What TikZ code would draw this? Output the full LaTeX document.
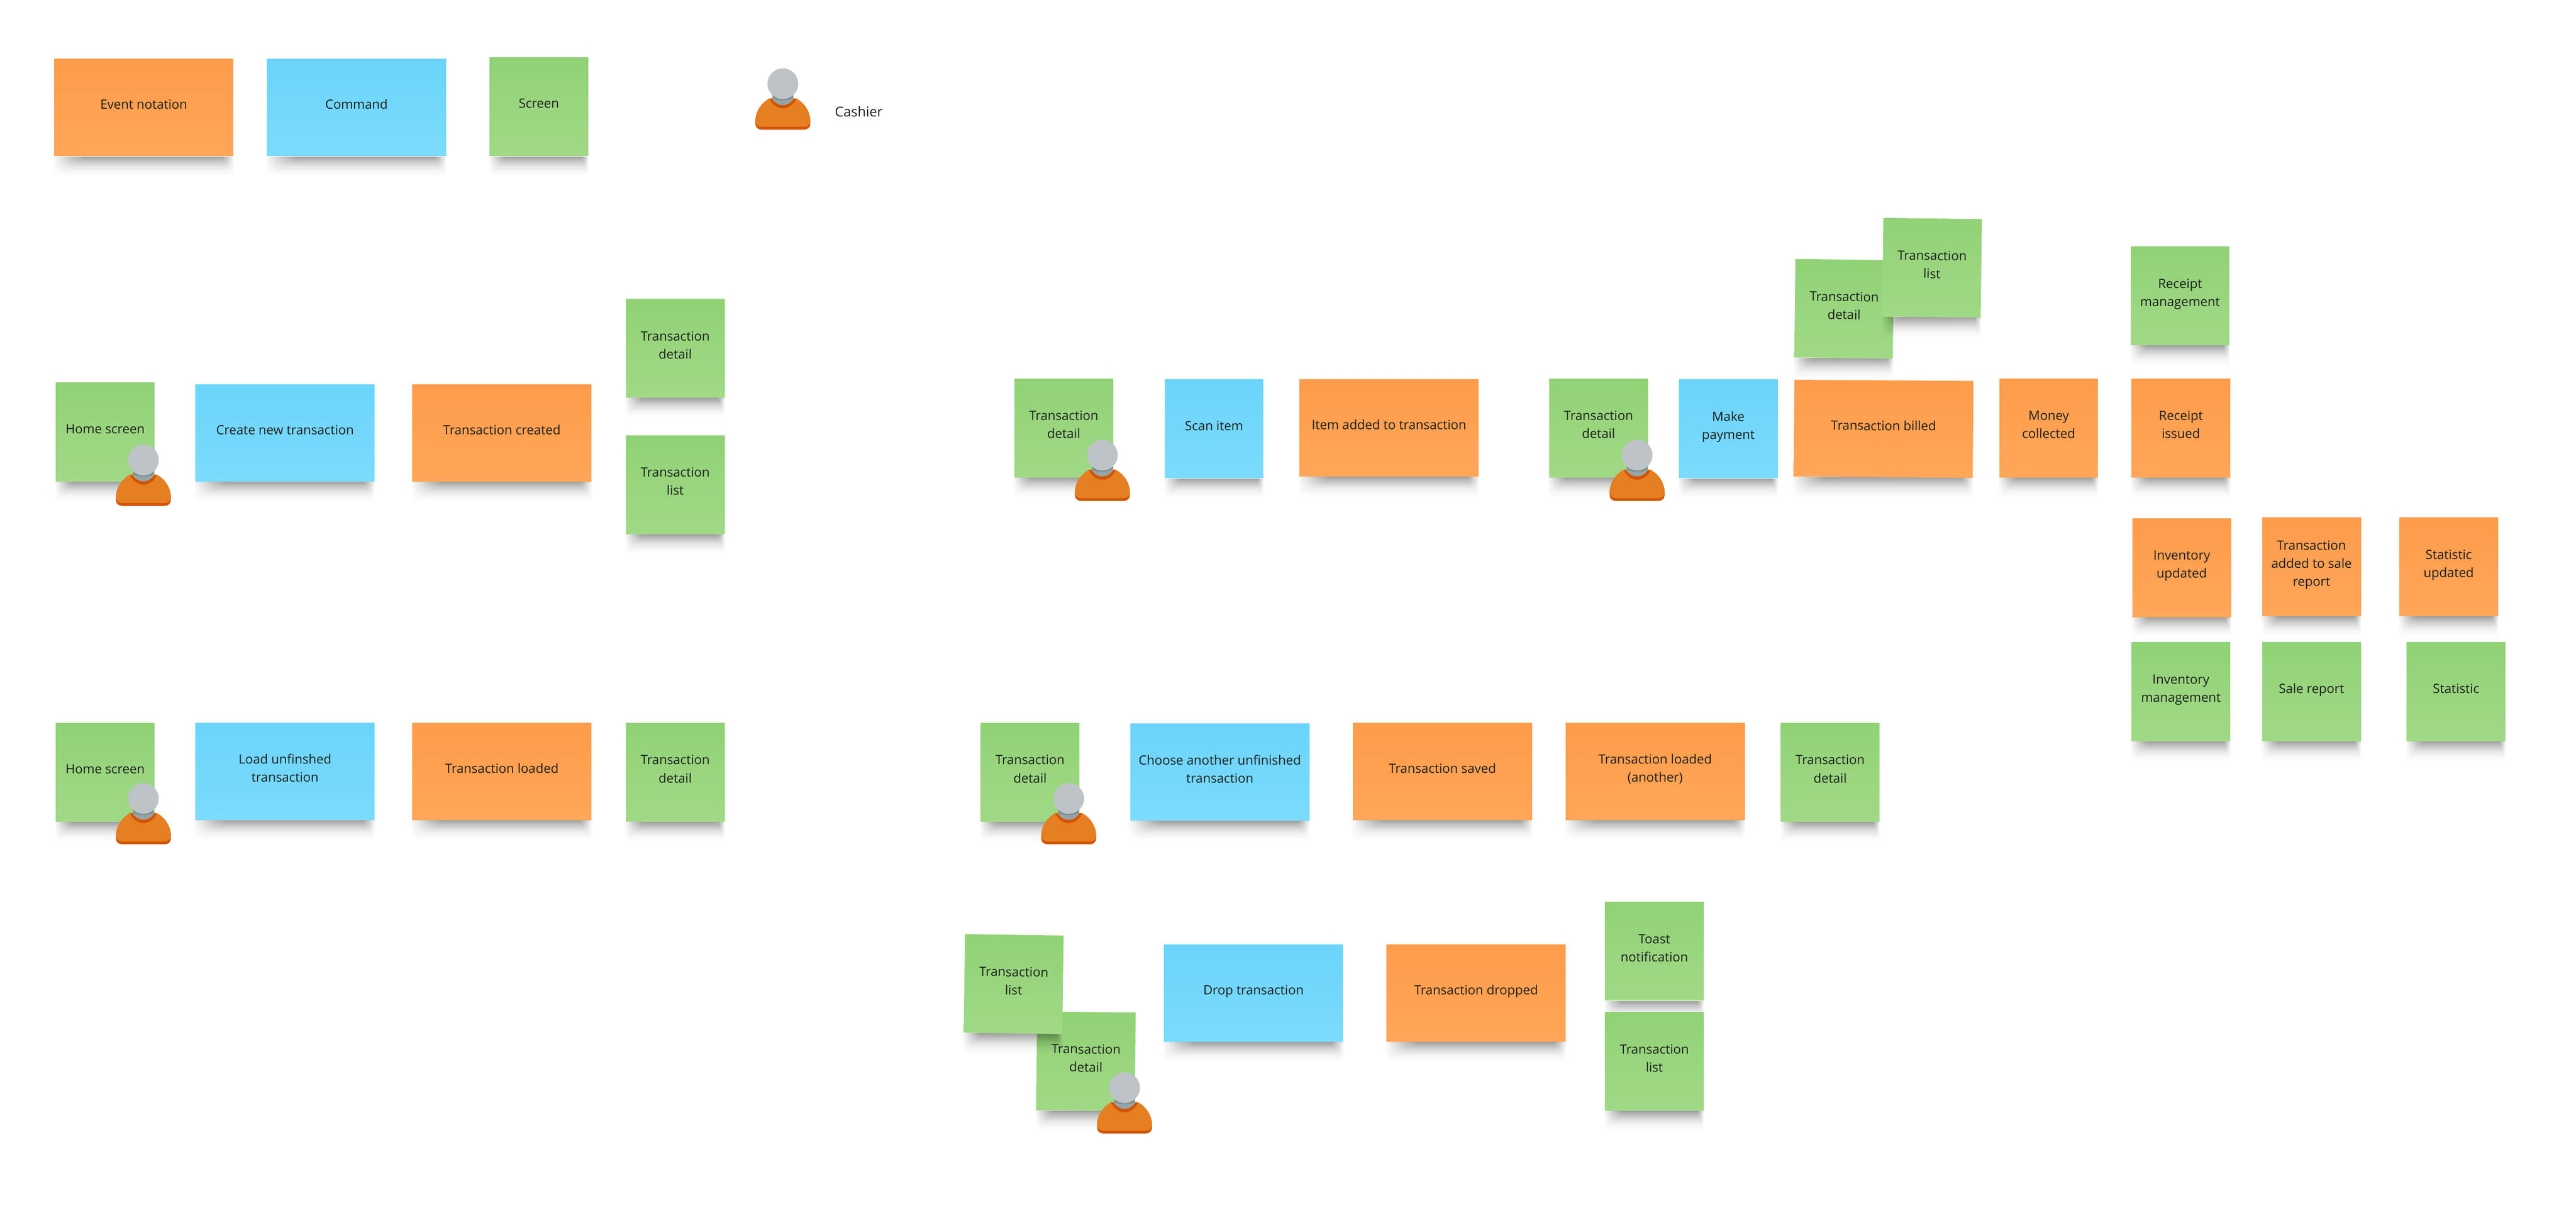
\documentclass[tikz,border=0pt]{standalone}
\usepackage{fontspec}
\setmainfont{Open Sans}
\usetikzlibrary{calc,fadings}
\definecolor{evtTop}{HTML}{FE9C4B}
\definecolor{evtBot}{HTML}{FFA658}
\definecolor{cmdTop}{HTML}{6BD4FB}
\definecolor{cmdBot}{HTML}{7BDBFC}
\definecolor{scrTop}{HTML}{91D276}
\definecolor{scrBot}{HTML}{A1D986}
\definecolor{bodyOrange}{HTML}{E67E22}
\definecolor{darkOrange}{HTML}{D35400}
\definecolor{headGray}{HTML}{BDC3C7}
\definecolor{neckGray}{HTML}{95A5A6}
\definecolor{neckDark}{HTML}{7F8C8D}
\pgfdeclarelayer{shadows}
\pgfdeclarelayer{upper}
\pgfsetlayers{shadows,main,upper}
\tikzfading[name=shadowfade,top color=transparent!0,bottom color=transparent!100]
\tikzset{
  note/.style={minimum width=60pt,minimum height=60pt,inner sep=0pt,align=center,text depth=4pt,
    text=black!88,font=\fontsize{7.8}{11}\selectfont},
  longnote/.style={note,minimum width=109pt,minimum height=59pt},
  evt/.style={note,top color=evtTop,bottom color=evtBot},
  cmd/.style={note,top color=cmdTop,bottom color=cmdBot},
  scr/.style={note,top color=scrTop,bottom color=scrBot},
  cashier/.pic={
    \fill[darkOrange] (-8.2,9) .. controls (-13,11.5) and (-16.7,17) .. (-16.7,22.5)
      -- (-16.7,24.5) .. controls (-16.7,26.5) and (-15,27.9) .. (-13,27.9)
      -- (13,27.9) .. controls (15,27.9) and (16.7,26.5) .. (16.7,24.5)
      -- (16.7,22.5) .. controls (16.7,17) and (13,11.5) .. (8.2,9) -- cycle;
    \fill[bodyOrange] (-8.2,9) .. controls (-13,11.5) and (-16.7,17) .. (-16.7,22.5)
      .. controls (-16.7,24.8) and (-15,26.2) .. (-13,26.2)
      -- (13,26.2) .. controls (15,26.2) and (16.7,24.8) .. (16.7,22.5)
      .. controls (16.7,17) and (13,11.5) .. (8.2,9) -- cycle;
    \fill[darkOrange] (-8.2,9) .. controls (-6.5,13) and (-3,15) .. (0,15)
      .. controls (3,15) and (6.5,13) .. (8.2,9) -- cycle;
    \fill[neckGray] (-6.3,7) -- (-6.3,9.5) .. controls (-4.5,12) and (-2,13) .. (0,13)
      .. controls (2,13) and (4.5,12) .. (6.3,9.5) -- (6.3,7) -- cycle;
    \fill[neckDark] (-6.3,7) -- (-6.3,8.6) .. controls (-3,10.6) and (3,10.6) .. (6.3,8.6) -- (6.3,7) -- cycle;
    \fill[headGray] (0,0) circle (9.37);
  }
}
% soft shadow under a note, built from fading strips
\newcommand{\noteshadow}[1]{%
  \foreach \i [evaluate=\i as \il using .018*\i,evaluate=\i as \ir using .007*\i,
      evaluate=\i as \ht using 13-\i*1.15] in {0,...,9} {
    \fill[black,opacity=.045,path fading=shadowfade]
      ($(#1.south west)!\il!(#1.south east)$) rectangle ($(#1.south east)!\ir!(#1.south west)+(0,\ht)$);
  }
}
\begin{document}
\begin{tikzpicture}[x=1pt,y=-1pt]
  \begin{pgfonlayer}{shadows}
    \fill[white] (0,0) rectangle (1568,741.2);
  \end{pgfonlayer}
  \useasboundingbox (0,0) rectangle (1568,741.2);

  % Legend
  \node[evt,longnote] (legendEvent) at (87.5,65.5) {Event notation};
  \node[cmd,longnote] (legendCommand) at (217,65.5) {Command};
  \node[scr] (legendScreen) at (328,65) {Screen};
  \node[anchor=west,inner sep=0pt,text=black!88,font=\fontsize{8.3}{11}\selectfont] (legendCashier) at (508,68) {Cashier};

  % Create transaction
  \node[scr] (homeA) at (64,263) {Home screen};
  \node[cmd,longnote] (createTx) at (173.5,263.5) {Create new transaction};
  \node[evt,longnote] (txCreated) at (305.5,263.5) {Transaction created};
  \node[scr] (detailA) at (411,212) {Transaction\\detail};
  \node[scr] (listA) at (411,295) {Transaction\\list};

  % Scan and payment
  \node[scr] (detailB) at (647.5,260.5) {Transaction\\detail};
  \node[cmd] (scanItem) at (739,261) {Scan item};
  \node[evt,longnote] (itemAdded) at (845.5,260.5) {Item added to transaction};
  \node[scr] (detailC) at (973,260.5) {Transaction\\detail};
  \node[cmd] (makePayment) at (1052,261) {Make\\payment};
  \node[evt,longnote,rotate=-.4] (txBilled) at (1146.5,261) {Transaction billed};
  \node[evt] (moneyCollected) at (1247,260.5) {Money\\collected};
  \node[evt] (receiptIssued) at (1327.5,260.5) {Receipt\\issued};
  \node[scr] (receiptMgmt) at (1327,180) {Receipt\\management};
  \node[scr,rotate=-.7] (detailD) at (1122.5,188) {Transaction\\detail};
  \node[evt] (inventoryUp) at (1328,345.5) {Inventory\\updated};
  \node[evt] (saleReportUp) at (1407,345) {Transaction\\added to sale\\report};
  \node[evt] (statisticUp) at (1490.5,345) {Statistic\\updated};
  \node[scr] (inventoryMgmt) at (1327.5,421) {Inventory\\management};
  \node[scr] (saleReport) at (1407,421) {Sale report};
  \node[scr] (statistic) at (1495,421) {Statistic};

  % Load transaction
  \node[scr] (homeB) at (64,470) {Home screen};
  \node[cmd,longnote] (loadTx) at (173.5,469.5) {Load unfinshed\\transaction};
  \node[evt,longnote] (txLoaded) at (305.5,469.5) {Transaction loaded};
  \node[scr] (detailE) at (411,470) {Transaction\\detail};

  % Switch transaction
  \node[scr] (detailF) at (627,470) {Transaction\\detail};
  \node[cmd,longnote] (chooseTx) at (742.5,470) {Choose another unfinished\\transaction};
  \node[evt,longnote] (txSaved) at (878,469.5) {Transaction saved};
  \node[evt,longnote] (txLoadedB) at (1007.5,469.5) {Transaction loaded\\(another)};
  \node[scr] (detailG) at (1114,470) {Transaction\\detail};

  % Drop transaction
  \node[scr,rotate=-.5] (detailH) at (661,646) {Transaction\\detail};
  \node[cmd,longnote] (dropTx) at (763,604.5) {Drop transaction};
  \node[evt,longnote] (txDropped) at (898.5,604.5) {Transaction dropped};
  \node[scr] (toast) at (1007,579) {Toast\\notification};
  \node[scr] (listC) at (1007,646) {Transaction\\list};

  % Notes lying on top of another note
  \begin{pgfonlayer}{upper}
    \node[scr,rotate=-.7] (listB) at (1176,163) {Transaction\\list};
    \node[scr,rotate=-.8] (listD) at (617,599) {Transaction\\list};
  \end{pgfonlayer}
  \noteshadow{listB}
  \noteshadow{listD}

  % Shadows
  \begin{pgfonlayer}{shadows}
    \foreach \nm in {legendEvent,legendCommand,legendScreen,homeA,createTx,txCreated,detailA,listA,
      detailB,scanItem,itemAdded,detailC,makePayment,txBilled,moneyCollected,receiptIssued,receiptMgmt,
      detailD,inventoryUp,saleReportUp,statisticUp,inventoryMgmt,saleReport,statistic,
      homeB,loadTx,txLoaded,detailE,detailF,chooseTx,txSaved,txLoadedB,detailG,
      detailH,dropTx,txDropped,toast,listC} {
      \noteshadow{\nm}
    }
  \end{pgfonlayer}

  % Cashiers
  \begin{pgfonlayer}{upper}
    \foreach \px/\py in {476.5/51,87.3/280,671/277,996.5/277,87.3/486,650.5/486,684.5/662} {
      \pic at (\px,\py) {cashier};
    }
  \end{pgfonlayer}
\end{tikzpicture}
\end{document}
